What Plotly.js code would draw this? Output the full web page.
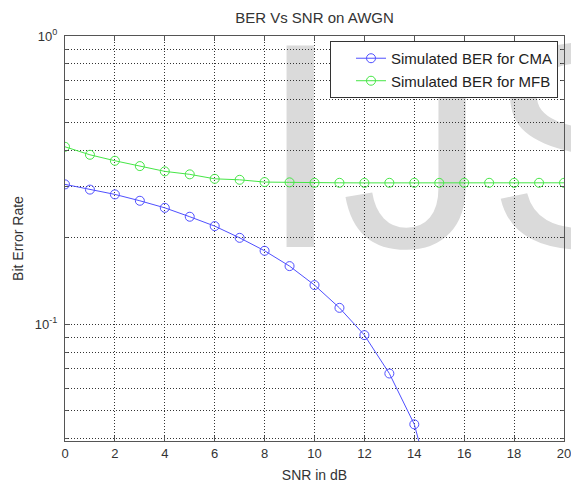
<!DOCTYPE html>
<html>
<head>
<meta charset="utf-8">
<script src="https://cdn.plot.ly/plotly-3.0.1.min.js"></script>
<style>
  html, body { margin: 0; padding: 0; background: #ffffff; }
  #wrap { position: relative; width: 571px; height: 483px; overflow: hidden; }
  #mark { position: absolute; left: 0; top: 0; z-index: 0; }
  #chart { position: absolute; left: 0; top: 0; z-index: 1; }
</style>
</head>
<body>
<div id="wrap">
  <svg id="mark" width="571" height="483">
    <text x="259.5" y="247" font-family="Liberation Sans, Arial, sans-serif" font-size="293" fill="#dadada">IJS</text>
  </svg>
  <div id="chart"></div>
</div>
<script>
// SNR axis (dB)
const snr = [0, 1, 2, 3, 4, 5, 6, 7, 8, 9, 10, 11, 12, 13, 14, 15, 16, 17, 18, 19, 20];

// Simulated BER, constant modulus algorithm
const cmaSnr = [0, 1, 2, 3, 4, 5, 6, 7, 8, 9, 10, 11, 12, 13, 14, 15];
const cmaBer = [0.3055, 0.293, 0.282, 0.268, 0.2533, 0.2359, 0.2189, 0.1993, 0.1797, 0.159,
                0.1366, 0.1139, 0.0916, 0.0674, 0.0449, 0.0214];

// Simulated BER, MFB
const mfbBer = [0.4125, 0.387, 0.369, 0.3536, 0.339, 0.331, 0.3194, 0.3169, 0.3112, 0.3105,
                0.3094, 0.3094, 0.3092, 0.3094, 0.3094, 0.3092, 0.3094, 0.3094, 0.3092, 0.3094, 0.3094];

// Axis ticks
const xTicks = [0, 2, 4, 6, 8, 10, 12, 14, 16, 18, 20];
const yMajor = [0.1, 1];
const yMajorText = ['10<sup>-1</sup>', '10<sup>0</sup>'];
const yMinor = [0.04, 0.05, 0.06, 0.07, 0.08, 0.09, 0.2, 0.3, 0.4, 0.5, 0.6, 0.7, 0.8, 0.9];

const font = 'Liberation Sans, Arial, Helvetica, sans-serif';
const dots = '1px,2px';

const traces = [
  {
    x: cmaSnr, y: cmaBer, name: 'Simulated BER for CMA',
    type: 'scatter', mode: 'lines+markers',
    line: { color: 'rgb(80,80,255)', width: 1 },
    marker: { symbol: 'circle-open', size: 9, color: 'rgb(80,80,255)', line: { width: 1 } }
  },
  {
    x: snr, y: mfbBer, name: 'Simulated BER for MFB',
    type: 'scatter', mode: 'lines+markers',
    line: { color: 'rgb(70,230,70)', width: 1 },
    marker: { symbol: 'circle-open', size: 9, color: 'rgb(70,230,70)', line: { width: 1 } }
  }
];

const layout = {
  width: 571, height: 483,
  margin: { l: 65, r: 7, t: 36, b: 42 },
  paper_bgcolor: 'rgba(0,0,0,0)',
  plot_bgcolor: 'rgba(0,0,0,0)',
  font: { family: font, size: 13, color: '#333333' },
  title: {
    text: 'BER Vs SNR on AWGN',
    font: { family: font, size: 15, color: '#333333' },
    x: 0.5, xref: 'paper', xanchor: 'center',
    y: 1 - 17.5 / 483, yref: 'container', yanchor: 'middle'
  },
  xaxis: {
    range: [0, 20],
    tickvals: xTicks,
    ticks: 'inside', ticklen: 5, tickcolor: '#555555',
    ticklabeloverflow: 'allow',
    showline: true, linecolor: '#555555', linewidth: 1, mirror: 'ticks',
    showgrid: true, gridcolor: '#333333', gridwidth: 1, griddash: dots,
    zeroline: false,
    tickfont: { family: font, size: 13, color: '#333333' },
    title: { text: 'SNR in dB', font: { family: font, size: 14, color: '#333333' }, standoff: 10 }
  },
  yaxis: {
    type: 'log',
    range: [Math.log10(0.0393), 0],
    tickmode: 'array', tickvals: yMajor, ticktext: yMajorText,
    ticks: 'inside', ticklen: 5, tickcolor: '#555555',
    ticklabelstandoff: 4,
    showline: true, linecolor: '#555555', linewidth: 1, mirror: 'ticks',
    showgrid: true, gridcolor: '#333333', gridwidth: 1, griddash: dots,
    zeroline: false,
    tickfont: { family: font, size: 13, color: '#333333' },
    minor: {
      tickmode: 'array', tickvals: yMinor,
      ticks: 'inside', ticklen: 3, tickcolor: '#555555',
      showgrid: true, gridcolor: '#333333', gridwidth: 1, griddash: dots
    },
    title: { text: 'Bit Error Rate', font: { family: font, size: 14, color: '#333333' }, standoff: 7 }
  },
  legend: {
    x: 0.988, xanchor: 'right', y: 0.9877, yanchor: 'top',
    bgcolor: '#ffffff', bordercolor: '#333333', borderwidth: 1,
    font: { family: font, size: 15, color: '#222222' },
    indentation: 20
  },
  showlegend: true
};

Plotly.newPlot('chart', traces, layout, { staticPlot: true, displayModeBar: false });
</script>
</body>
</html>
